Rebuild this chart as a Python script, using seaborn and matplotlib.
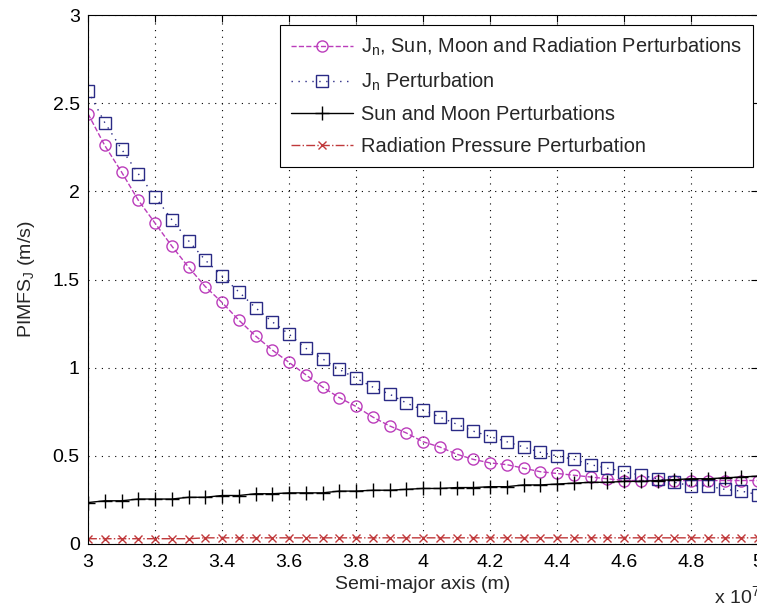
import matplotlib
matplotlib.use("Agg")
import matplotlib.pyplot as plt
import numpy as np
import pandas as pd
import seaborn as sns
from matplotlib.ticker import FuncFormatter, MultipleLocator

# Semi-major axis grid (units of 1e7 m)
semi_major_axis_e7 = [
    3.00, 3.05, 3.10, 3.15, 3.20, 3.25, 3.30, 3.35, 3.40, 3.45,
    3.50, 3.55, 3.60, 3.65, 3.70, 3.75, 3.80, 3.85, 3.90, 3.95,
    4.00, 4.05, 4.10, 4.15, 4.20, 4.25, 4.30, 4.35, 4.40, 4.45,
    4.50, 4.55, 4.60, 4.65, 4.70, 4.75, 4.80, 4.85, 4.90, 4.95,
    5.00,
]

# PIMFS_J values (m/s)
all_perturbations = [
    2.44, 2.26, 2.11, 1.95, 1.82, 1.69, 1.57, 1.46, 1.37, 1.27,
    1.18, 1.10, 1.03, 0.96, 0.89, 0.83, 0.78, 0.72, 0.67, 0.63,
    0.58, 0.55, 0.51, 0.48, 0.46, 0.45, 0.43, 0.41, 0.40, 0.39,
    0.38, 0.37, 0.36, 0.36, 0.36, 0.36, 0.36, 0.36, 0.36, 0.36,
    0.36,
]
jn_perturbation = [
    2.57, 2.39, 2.24, 2.10, 1.97, 1.84, 1.72, 1.61, 1.52, 1.43,
    1.34, 1.26, 1.19, 1.11, 1.05, 0.99, 0.94, 0.89, 0.85, 0.80,
    0.76, 0.72, 0.68, 0.64, 0.61, 0.58, 0.55, 0.52, 0.50, 0.48,
    0.45, 0.43, 0.41, 0.39, 0.37, 0.35, 0.33, 0.33, 0.31, 0.30,
    0.28,
]
sun_moon_perturbation = [
    0.235, 0.245, 0.245, 0.255, 0.255, 0.255, 0.265, 0.265, 0.275, 0.275,
    0.285, 0.285, 0.290, 0.290, 0.290, 0.300, 0.300, 0.305, 0.305, 0.310,
    0.315, 0.315, 0.320, 0.320, 0.325, 0.325, 0.335, 0.335, 0.340, 0.345,
    0.350, 0.350, 0.355, 0.355, 0.360, 0.365, 0.370, 0.370, 0.375, 0.380,
    0.385,
]
radiation_perturbation = [
    0.030, 0.030, 0.030, 0.030, 0.030, 0.030, 0.030, 0.035, 0.035, 0.035,
    0.035, 0.035, 0.035, 0.035, 0.035, 0.035, 0.035, 0.035, 0.035, 0.035,
    0.035, 0.035, 0.035, 0.035, 0.035, 0.035, 0.035, 0.035, 0.035, 0.035,
    0.035, 0.035, 0.035, 0.035, 0.035, 0.035, 0.035, 0.035, 0.035, 0.035,
    0.035,
]

labels = [
    r"J$_\mathregular{n}$, Sun, Moon and Radiation Perturbations",
    r"J$_\mathregular{n}$ Perturbation",
    "Sun and Moon Perturbations",
    "Radiation Pressure Perturbation",
]

df = pd.DataFrame({
    "a": np.array(semi_major_axis_e7) * 1e7,
    "all": all_perturbations,
    "jn": jn_perturbation,
    "sunmoon": sun_moon_perturbation,
    "rad": radiation_perturbation,
})

sns.set_theme(style="white")
plt.rcParams["font.family"] = ["Liberation Sans", "DejaVu Sans"]
plt.rcParams["mathtext.fontset"] = "custom"
plt.rcParams["mathtext.rm"] = "Liberation Sans"
plt.rcParams["mathtext.it"] = "Liberation Sans:italic"

fig = plt.figure(figsize=(7.57, 6.10), dpi=100)
ax = fig.add_axes([88 / 757, 66 / 610, 670 / 757, 529 / 610])

styles = [
    ("all", "#bb3dbb", "--", "o", 8, "none"),
    ("jn", "#2a2a85", (0, (1, 4)), "s", 8.5, "none"),
    ("sunmoon", "black", "-", "+", 10, "none"),
    ("rad", "#c0393b", "-.", "x", 6, "none"),
]
for (col, color, ls, marker, ms, mfc), label in zip(styles, labels):
    sns.lineplot(
        data=df, x="a", y=col, ax=ax, color=color, linestyle=ls, lw=1.0,
        marker=marker, markersize=ms, markerfacecolor=mfc,
        markeredgecolor=color, markeredgewidth=1.0, label=label,
    )

ax.set_xlim(3e7, 5e7)
ax.set_ylim(0, 3)
ax.xaxis.set_major_locator(MultipleLocator(0.2e7))
ax.yaxis.set_major_locator(MultipleLocator(0.5))
ax.xaxis.set_major_formatter(FuncFormatter(lambda v, p: f"{v / 1e7:g}"))
ax.yaxis.set_major_formatter(FuncFormatter(lambda v, p: f"{v:g}"))

ax.grid(True, color="black", linestyle=(0, (1, 5)), linewidth=0.8)
ax.tick_params(direction="in", top=True, right=True, length=5, width=0.8,
               labelsize=14, colors="black")
ax.tick_params(axis="x", pad=7)
ax.tick_params(axis="y", pad=6)
for sp in ax.spines.values():
    sp.set_color("black")
    sp.set_linewidth(0.8)

ax.set_xlabel("Semi-major axis (m)", fontsize=14, labelpad=4)
ax.set_ylabel(r"PIMFS$_\mathregular{J}$ (m/s)", fontsize=14, labelpad=11)

fig.text(714 / 757, 0.012, r"x 10$^\mathregular{7}$", fontsize=14)

leg = ax.legend(
    loc="upper right", bbox_to_anchor=((753 - 88) / 670, (544 - 25) / 529),
    borderaxespad=0, fontsize=14.4, handlelength=3.1, handletextpad=0.4,
    labelspacing=0.62, borderpad=0.55, fancybox=False, framealpha=1,
    edgecolor="black",
)
leg.get_frame().set_linewidth(0.8)

fig.savefig("out.png", dpi=100)
